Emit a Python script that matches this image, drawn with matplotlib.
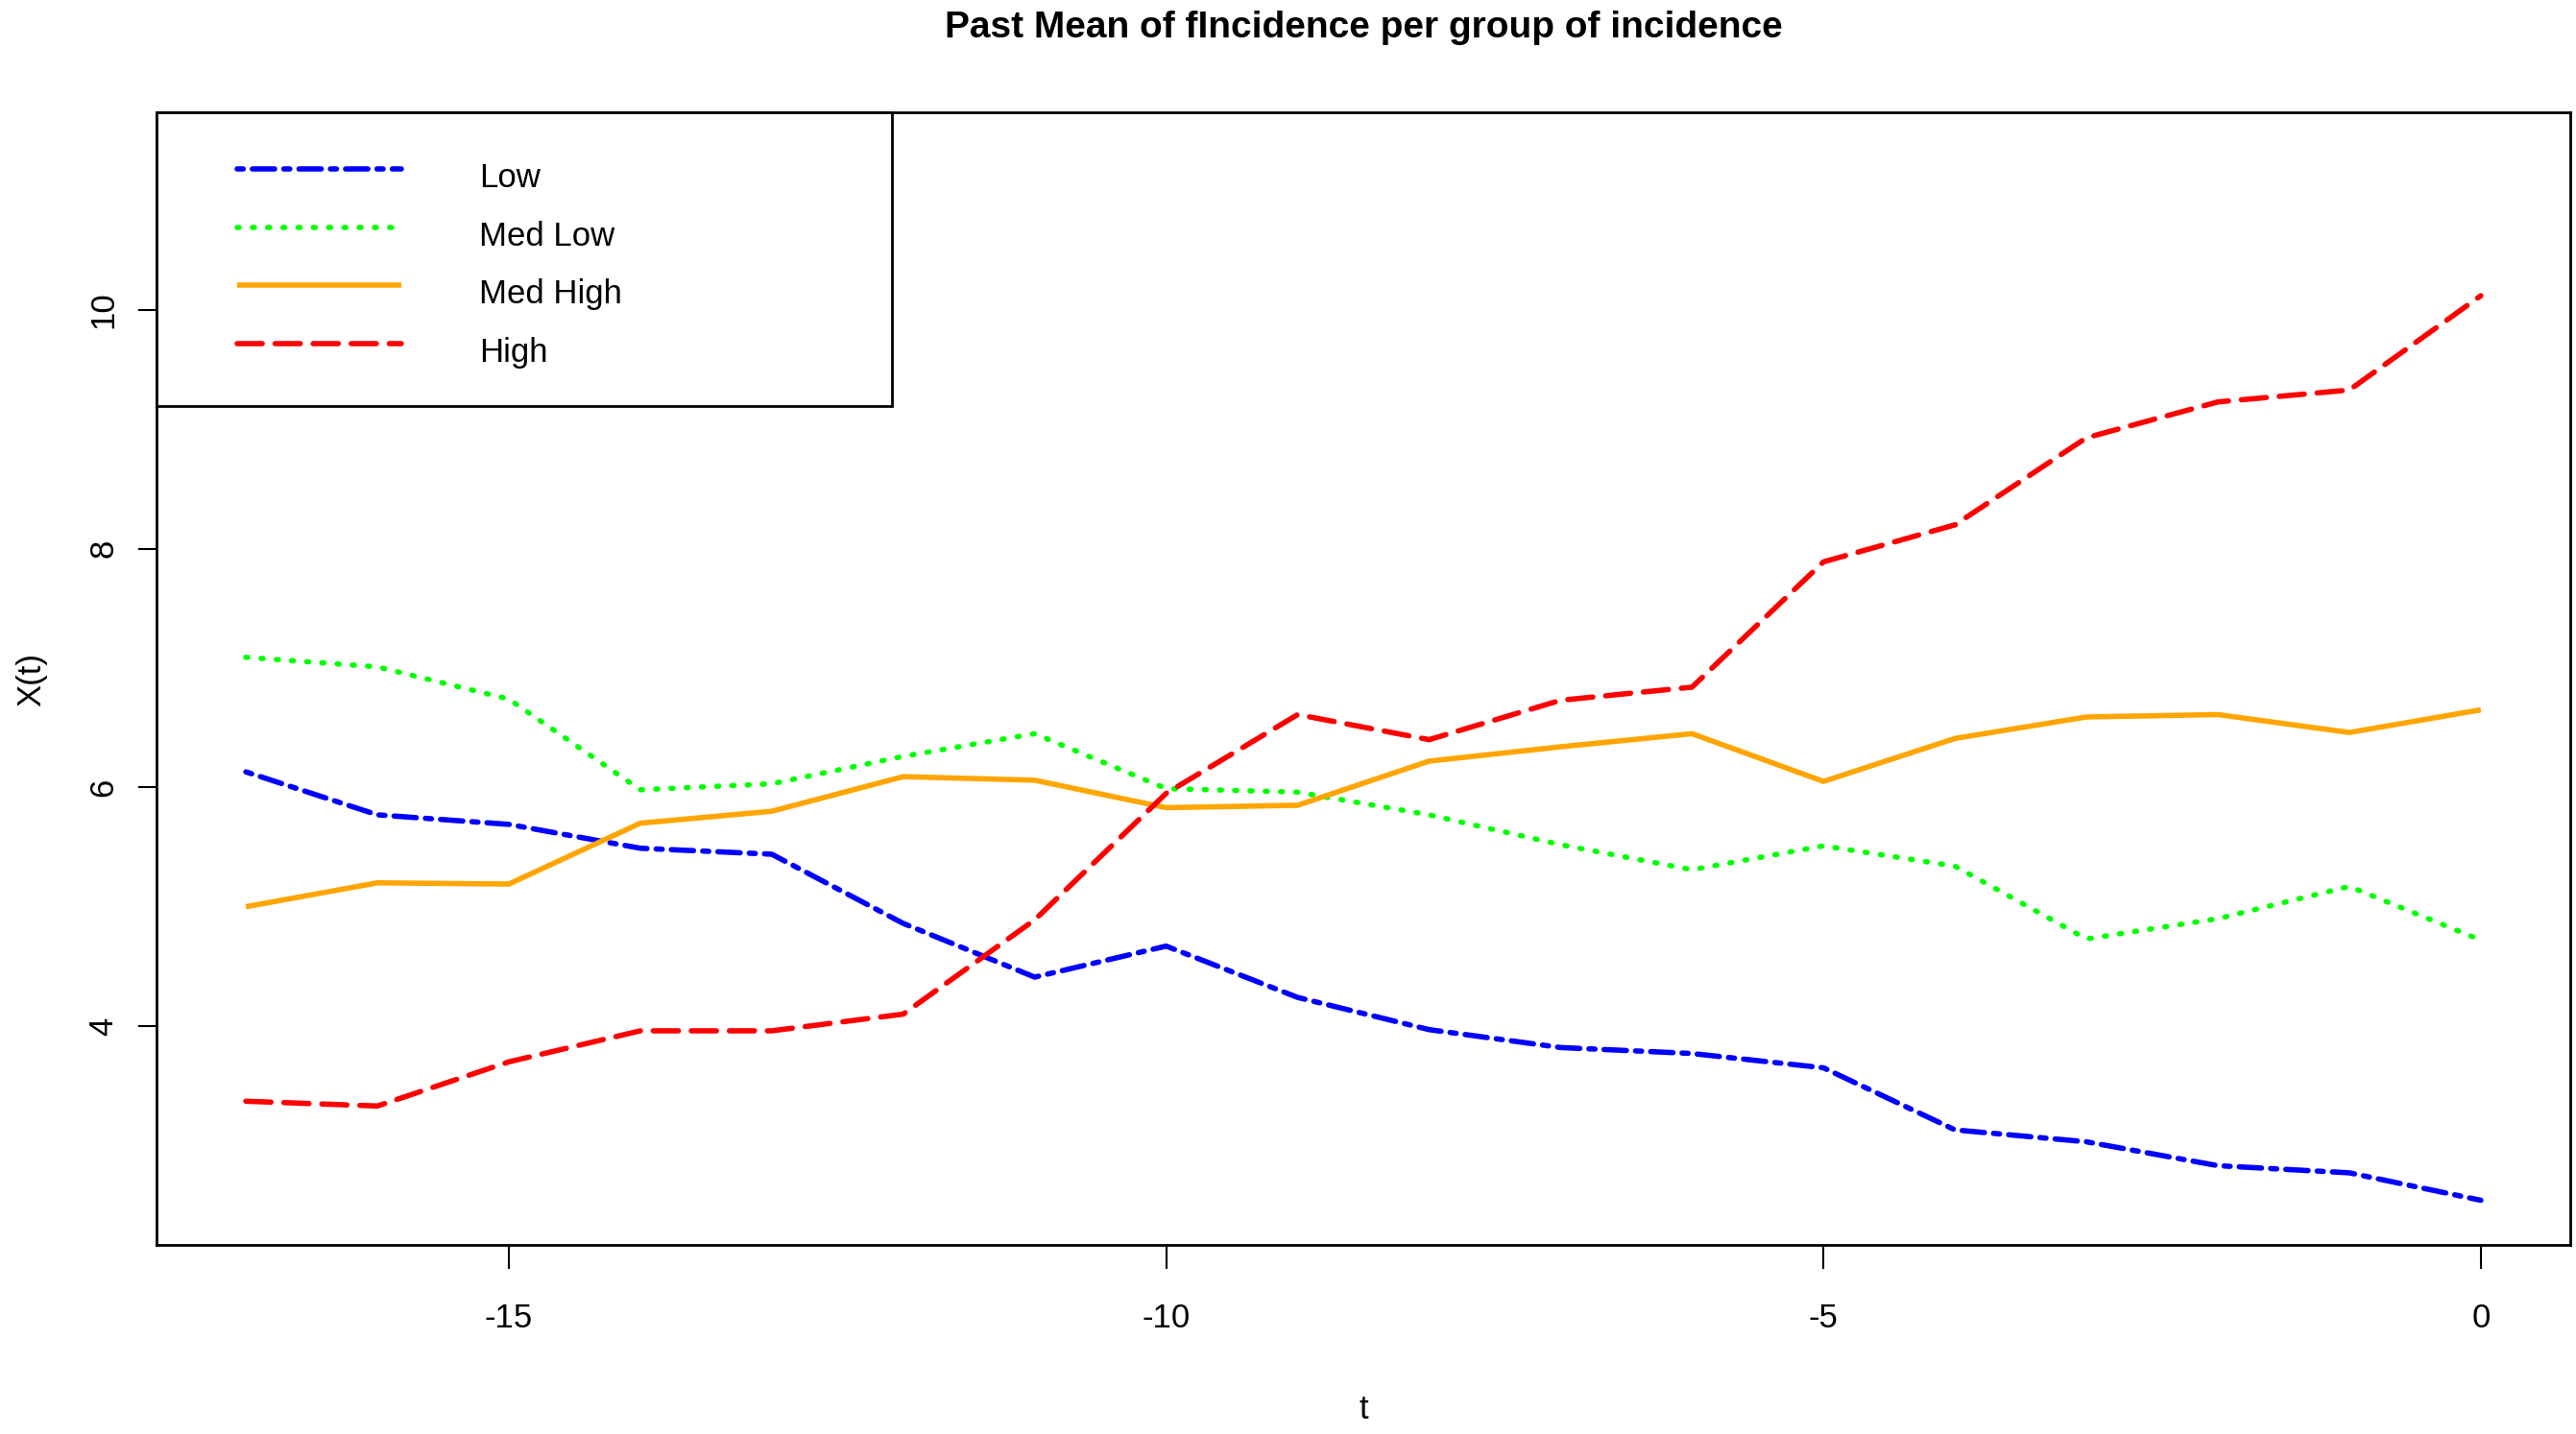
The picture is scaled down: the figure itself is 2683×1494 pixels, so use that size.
import matplotlib
matplotlib.use("Agg")
import matplotlib.pyplot as plt
from matplotlib.legend_handler import HandlerLine2D
from matplotlib.transforms import ScaledTranslation
from matplotlib import font_manager

# ---------------- data ----------------
t = list(range(-17, 1))
low = [6.13, 5.77, 5.69, 5.49, 5.44, 4.86, 4.41, 4.67, 4.24, 3.97, 3.82, 3.77,
       3.65, 3.13, 3.03, 2.83, 2.77, 2.54]
med_low = [7.09, 7.01, 6.74, 5.98, 6.03, 6.26, 6.45, 5.99, 5.96, 5.77, 5.52, 5.31,
           5.51, 5.34, 4.73, 4.90, 5.17, 4.72]
med_high = [5.00, 5.20, 5.19, 5.70, 5.80, 6.09, 6.06, 5.83, 5.85, 6.22, 6.34, 6.45,
            6.05, 6.41, 6.59, 6.61, 6.46, 6.65]
high = [3.37, 3.33, 3.70, 3.96, 3.96, 4.10, 4.89, 5.95, 6.61, 6.40, 6.73, 6.84,
        7.89, 8.20, 8.93, 9.23, 9.33, 10.12]

labels = ["Low", "Med Low", "Med High", "High"]
colors = ["#0000FF", "#00FF00", "#FFA500", "#FF0000"]
title = "Past Mean of fIncidence per group of incidence"
xlabel = "t"
ylabel = "X(t)"
xticks = [-15, -10, -5, 0]
yticks = [4, 6, 8, 10]

# ---------------- fonts ----------------
names = {f.name for f in font_manager.fontManager.ttflist}
narrow = "Liberation Sans Narrow" if "Liberation Sans Narrow" in names else "Liberation Sans"
plt.rcParams["font.family"] = [narrow, "DejaVu Sans"]
fs = 27.4 if narrow == "Liberation Sans Narrow" else 25.0

W, H = 2683, 1494
fig = plt.figure(figsize=(W / 100, H / 100), dpi=100)
L, R, T, B = 163, 2677, 117, 1297
ax = fig.add_axes([L / W, 1 - B / H, (R - L) / W, (B - T) / H])

lw = 4.0
styles = [
    dict(dashes=(1.14, 1.71, 4.18, 1.71), dash_capstyle="round"),
    dict(dashes=(0.36, 2.5), dash_capstyle="round"),
    dict(linestyle="-", solid_capstyle="butt"),
    dict(dashes=(4.7, 2.43), dash_capstyle="round"),
]
series = [low, med_low, med_high, high]
lines = []
for y, c, lab, st in zip(series, colors, labels, styles):
    ln, = ax.plot(t, y, color=c, lw=lw, label=lab, **st)
    lines.append(ln)

ax.set_xlim(-17.68, 0.68)
ax.set_ylim(2.166, 11.657)

ax.set_xticks(xticks)
ax.set_xticklabels([str(v) for v in xticks], fontsize=fs)
ax.set_yticks(yticks)
ax.set_yticklabels([str(v) for v in yticks], fontsize=fs, rotation=90, va="center")
ax.tick_params(axis="x", length=18, width=1.5, pad=25.5)
ax.tick_params(axis="y", length=13.7, width=1.5, pad=14)
for sp in ax.spines.values():
    sp.set_linewidth(2.0)

ax.set_title(title, fontsize=28, fontweight="bold", family=["Liberation Sans", "DejaVu Sans"], pad=56)
ax.set_xlabel(xlabel, fontsize=fs)
ax.xaxis.set_label_coords(0.5, -(1468 - B) / (B - T))
ax.xaxis.label.set_va("center")
ax.set_ylabel(ylabel, fontsize=fs)
ax.yaxis.set_label_coords(-(L - 33) / (R - L), (B - 708) / (B - T))
ax.yaxis.label.set_va("center")

# legend box: 163..929 x 117..421 px, rows every 61 px
lw_ax = (929 - L) / (R - L)
lh_ax = (421 - T) / (B - T)
fpx = fs * 100 / 72
bp = (62 - 0.475 * fpx) / fpx
ls = (60.5 - 0.95 * fpx) / fpx
left0 = L + bp * fpx
leg = ax.legend(handles=lines, loc="upper left", bbox_to_anchor=(0, 1 - lh_ax, lw_ax, lh_ax),
                mode="expand", borderaxespad=0, fontsize=fs, frameon=True, fancybox=False,
                framealpha=1, edgecolor="black", borderpad=bp, labelspacing=ls,
                handlelength=(418 - left0) / fpx, handletextpad=(499 - 418) / fpx,
                handler_map={ln: HandlerLine2D(xpad=(247 - left0) / fpx) for ln in lines})
leg.get_frame().set_linewidth(2.0)
shift = ScaledTranslation(0, -6.5 / 100, fig.dpi_scale_trans)
for txt in leg.get_texts():
    txt.set_transform(txt.get_transform() + shift)

fig.savefig("out.png", dpi=100)
